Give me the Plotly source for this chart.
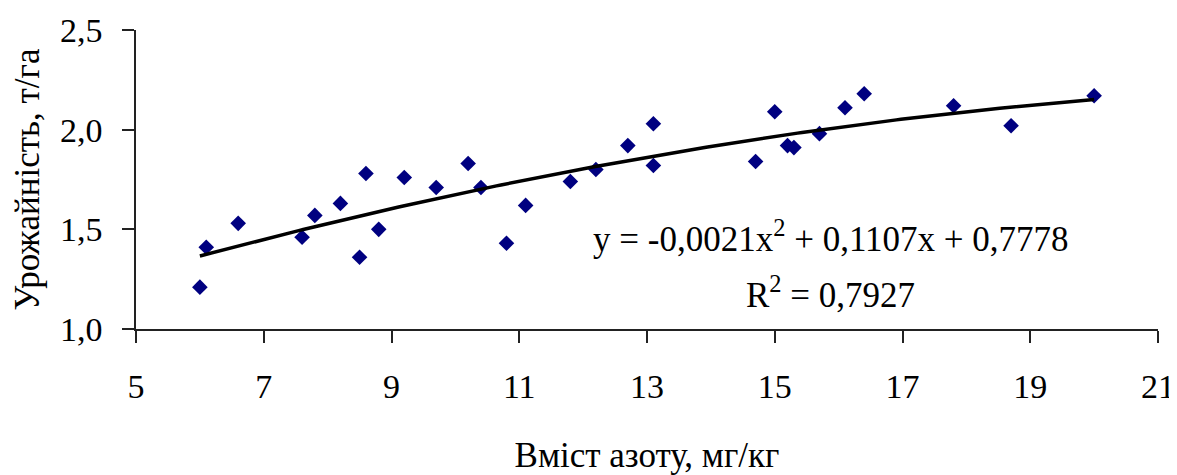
import numpy as np
import plotly.graph_objects as go

# Data
nitrogen = [6.0, 6.1, 6.6, 7.6, 7.8, 8.2, 8.5, 8.6, 8.8, 9.2, 9.7, 10.2, 10.4, 10.8, 11.1,
            11.8, 12.2, 12.7, 13.1, 13.1, 14.7, 15.0, 15.2, 15.3, 15.7, 16.1, 16.4, 17.8, 18.7, 20.0]
yield_t = [1.21, 1.41, 1.53, 1.46, 1.57, 1.63, 1.36, 1.78, 1.50, 1.76, 1.71, 1.83, 1.71, 1.43, 1.62,
           1.74, 1.80, 1.92, 2.03, 1.82, 1.84, 2.09, 1.92, 1.91, 1.98, 2.11, 2.18, 2.12, 2.02, 2.17]

# Polynomial trendline coefficients (from the chart's equation label)
trend_coef = [-0.0021, 0.1107, 0.7778]
r_squared = 0.7927

x_ticks = [5, 7, 9, 11, 13, 15, 17, 19, 21]
y_ticks = [1.0, 1.5, 2.0, 2.5]

x_title = "Вміст азоту, мг/кг"
y_title = "Урожайність, т/га"

xt = np.linspace(min(nitrogen), max(nitrogen), 200)
yt = np.polyval(trend_coef, xt)

FONT = "Liberation Serif, Times New Roman, serif"
FS_TICK = 34
FS_TITLE = 35
FS_ANN = 35

fig = go.Figure()
fig.add_trace(go.Scatter(
    x=nitrogen, y=yield_t, mode="markers",
    marker=dict(symbol="diamond", size=12, color="#000080", line=dict(width=0)),
    showlegend=False,
))
fig.add_trace(go.Scatter(
    x=xt, y=yt, mode="lines",
    line=dict(color="black", width=3.5),
    showlegend=False,
))

eq_text = "y = -0,0021x<sup>2</sup> + 0,1107x + 0,7778"
r2_text = "R<sup>2</sup> = " + f"{r_squared:.4f}".replace(".", ",")

fig.add_annotation(x=15.88, y=1.465, xref="x", yref="y", text=eq_text, showarrow=False,
                   font=dict(family=FONT, size=FS_ANN, color="black"), xanchor="center", yanchor="middle")
fig.add_annotation(x=15.88, y=1.185, xref="x", yref="y", text=r2_text, showarrow=False,
                   font=dict(family=FONT, size=FS_ANN, color="black"), xanchor="center", yanchor="middle")

axis_common = dict(
    showgrid=False, zeroline=False, showline=True, linecolor="#222", linewidth=1.5,
    ticks="outside", ticklen=12, tickwidth=1.5, tickcolor="#222",
    tickfont=dict(family=FONT, size=FS_TICK, color="black"), automargin=False,
)

# page body adds an 8px offset, so the figure is sized to the remaining window
fig.update_layout(
    width=1169, height=467,
    margin=dict(l=128, r=19, t=22, b=146),
    paper_bgcolor="white", plot_bgcolor="white",
    separators=", ",
    xaxis=dict(range=[5, 21], tickvals=x_ticks, ticklabelstandoff=14,
               title=dict(text=x_title, font=dict(family=FONT, size=FS_TITLE, color="black"), standoff=39),
               **axis_common),
    yaxis=dict(range=[1.0, 2.5], tickvals=y_ticks, tickformat=".1f", ticklabelstandoff=13,
               title=dict(text=y_title, font=dict(family=FONT, size=FS_TITLE, color="black"), standoff=19),
               **axis_common),
)

fig.write_html("out.html")
